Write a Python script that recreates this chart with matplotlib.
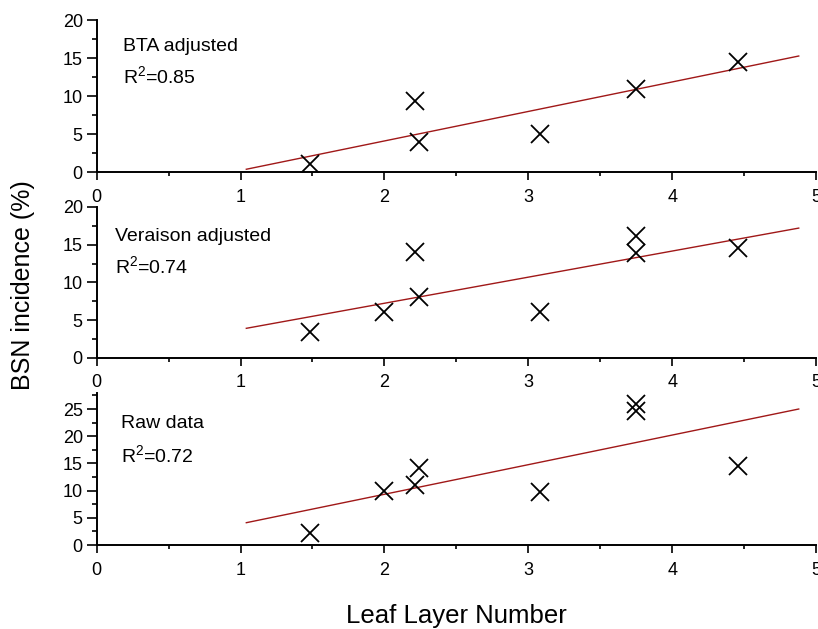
import matplotlib
matplotlib.use("Agg")
import matplotlib.pyplot as plt
from matplotlib.ticker import MultipleLocator

plt.rcParams['font.family'] = ['Liberation Sans', 'DejaVu Sans']
plt.rcParams['mathtext.default'] = 'regular'

# ---- data ----
bta_x = [1.48, 2.21, 2.24, 3.08, 3.75, 4.46]
bta_y = [1.1, 9.4, 4.0, 5.0, 10.9, 14.5]

ver_x = [1.48, 2.0, 2.21, 2.24, 3.08, 3.75, 3.75, 4.46]
ver_y = [3.45, 6.0, 14.0, 8.0, 6.0, 13.9, 16.1, 14.5]

raw_x = [1.48, 2.0, 2.21, 2.24, 3.08, 3.75, 3.75, 4.46]
raw_y = [2.2, 9.9, 11.1, 14.2, 9.7, 24.6, 25.9, 14.5]

fit_x = [1.04, 4.88]
bta_fit = [0.4, 15.3]
ver_fit = [3.9, 17.2]
raw_fit = [4.1, 25.0]

panel_names = ["BTA adjusted", "Veraison adjusted", "Raw data"]
r2_labels = [r"R$^{2}$=0.85", r"R$^{2}$=0.74", r"R$^{2}$=0.72"]
ylims = [20, 20, 28]
x_ticks = [0, 1, 2, 3, 4, 5]

W, H = 818, 629
fig = plt.figure(figsize=(W / 100, H / 100), dpi=100)

left = 96.7 / W
right = 816.0 / W
# (y0 pixel, ytop pixel)
panels_px = [(172.3, 20.3), (357.7, 207.0), (545.0, 392.7)]

series = [(bta_x, bta_y, bta_fit), (ver_x, ver_y, ver_fit), (raw_x, raw_y, raw_fit)]
# text positions (x data, y data baseline) for name and R2
text_pos = [((0.18, 16.0), (0.18, 11.7)),
            ((0.13, 15.5), (0.13, 11.2)),
            ((0.17, 21.5), (0.17, 15.3))]

for i, ((y0p, ytp), (xs, ys, fy)) in enumerate(zip(panels_px, series)):
    ax = fig.add_axes([left, 1 - y0p / H, right - left, (y0p - ytp) / H])
    ax.set_xlim(0, 5)
    ax.set_ylim(0, ylims[i])
    ax.plot(fit_x, fy, color='#a01818', lw=1.0, zorder=2)
    ax.plot(xs, ys, linestyle='none', marker='x', color='black',
            markersize=12.5, markeredgewidth=1.3, zorder=3)
    ax.spines['top'].set_visible(False)
    ax.spines['right'].set_visible(False)
    for s in ('left', 'bottom'):
        ax.spines[s].set_linewidth(1.4)
    ax.set_xticks(x_ticks)
    ax.xaxis.set_minor_locator(MultipleLocator(0.5))
    ax.yaxis.set_major_locator(MultipleLocator(5))
    ax.yaxis.set_minor_locator(MultipleLocator(2.5))
    ax.tick_params(axis='x', which='major', length=6, width=1.2, pad=6, labelsize=13)
    ax.tick_params(axis='x', which='minor', length=3, width=1.2)
    ax.tick_params(axis='y', which='major', length=7, width=1.2, pad=3, labelsize=13)
    ax.tick_params(axis='y', which='minor', length=3.5, width=1.2)
    ax.patch.set_alpha(0)
    (nx, ny), (rx, ry) = text_pos[i]
    ax.text(nx, ny, panel_names[i], fontsize=14, va='baseline', ha='left')
    ax.text(rx, ry, r2_labels[i], fontsize=14, va='baseline', ha='left')

fig.text(456 / W, 1 - 616 / H, "Leaf Layer Number", fontsize=18.5, ha='center', va='center')
fig.text(23 / W, 1 - 285 / H, "BSN incidence (%)", fontsize=18, ha='center', va='center', rotation=90)

fig.savefig("out.png", dpi=100)
